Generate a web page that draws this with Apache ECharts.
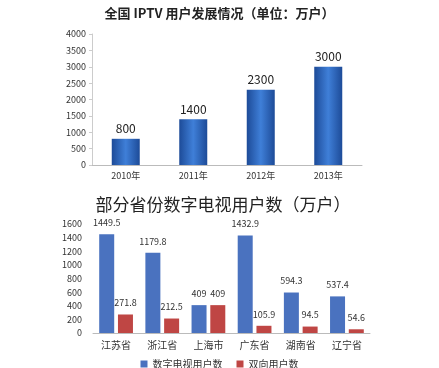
<!DOCTYPE html>
<html><head><meta charset="utf-8">
<script src="https://cdn.jsdelivr.net/npm/echarts@6/dist/echarts.min.js"></script>
<style>html,body{margin:0;padding:0;background:#fff}#c{width:439px;height:368px}</style>
</head><body><div id="c"></div>
<script>
const years = ['2010年','2011年','2012年','2013年'];
const iptvUsers = [800, 1400, 2300, 3000];
const provinces = ['江苏省','浙江省','上海市','广东省','湖南省','辽宁省'];
const digitalTV = [1449.5, 1179.8, 409, 1432.9, 594.3, 537.4];
const twoWay = [271.8, 212.5, 409, 105.9, 94.5, 54.6];
const topTicks = [0,500,1000,1500,2000,2500,3000,3500,4000];
const bottomTicks = [0,200,400,600,800,1000,1200,1400,1600];

const font = '"Noto Sans CJK SC", "Noto Sans", sans-serif';
const chart = echarts.init(document.getElementById('c'), null, {renderer:'canvas'});
chart.setOption({
  backgroundColor:'#fff',
  animation:false,
  textStyle:{fontFamily:font},
  title:[
    {text:'全国 IPTV 用户发展情况（单位：万户）', left:'center', top:2,
     textStyle:{fontSize:13, fontWeight:'bold', color:'#222', fontFamily:font}},
    {text:'部分省份数字电视用户数（万户）', left:218, textAlign:'center', top:191,
     textStyle:{fontSize:17, fontWeight:'normal', color:'#222', fontFamily:font}}
  ],
  legend:{data:['数字电视用户数','双向用户数'], top:354, left:'center', itemWidth:7, itemHeight:7, itemGap:14,
    icon:'rect', textStyle:{fontSize:10, color:'#333', fontFamily:font}},
  grid:[
    {left:92, right:77, top:34, bottom:203},
    {left:93, right:69, top:224, bottom:35}
  ],
  xAxis:[
    {type:'category', gridIndex:0, data:years, axisTick:{show:false},
     axisLine:{lineStyle:{color:'#bbb'}}, axisLabel:{fontSize:9, color:'#333', margin:6}},
    {type:'category', gridIndex:1, data:provinces, axisTick:{show:false},
     axisLine:{lineStyle:{color:'#bbb'}}, axisLabel:{fontSize:10, color:'#333', margin:7}}
  ],
  yAxis:[
    {type:'value', gridIndex:0, min:topTicks[0], max:topTicks[topTicks.length-1], interval:500, splitLine:{show:false},
     axisLine:{show:true, lineStyle:{color:'#ccc'}}, axisTick:{show:true, length:3, lineStyle:{color:'#ccc'}},
     axisLabel:{fontSize:9, color:'#333', margin:6, formatter:v=>String(v)}},
    {type:'value', gridIndex:1, min:bottomTicks[0], max:bottomTicks[bottomTicks.length-1], interval:200, splitLine:{show:false},
     axisLine:{show:false}, axisTick:{show:false},
     axisLabel:{fontSize:9, color:'#333', margin:11, formatter:v=>String(v)}}
  ],
  series:[
    {type:'bar', xAxisIndex:0, yAxisIndex:0, data:iptvUsers, barWidth:28,
     itemStyle:{color:new echarts.graphic.LinearGradient(0,0,1,0,[
       {offset:0,color:'#1d4b98'},{offset:0.5,color:'#3f7fd8'},{offset:1,color:'#1d4b98'}])},
     label:{show:true, position:'top', fontSize:12, color:'#222', distance:4}},
    {name:'数字电视用户数', type:'bar', xAxisIndex:1, yAxisIndex:1, data:digitalTV, barWidth:15, barGap:'25%',
     itemStyle:{color:'#4a72bf'},
     label:{show:true, position:'top', fontSize:9, color:'#333', distance:7}},
    {name:'双向用户数', type:'bar', xAxisIndex:1, yAxisIndex:1, data:twoWay, barWidth:15,
     itemStyle:{color:'#bf4644'},
     label:{show:true, position:'top', fontSize:9, color:'#333', distance:7}}
  ]
});
</script></body></html>
